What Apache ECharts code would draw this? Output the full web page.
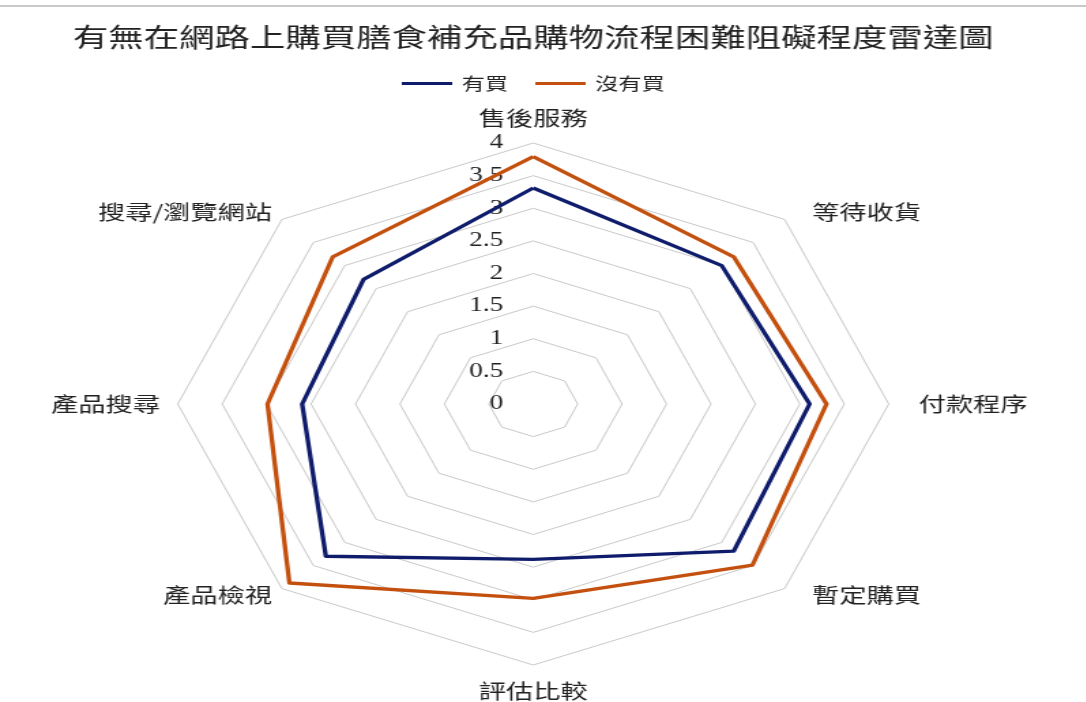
<!DOCTYPE html>
<html>
<head>
<meta charset="utf-8">
<script src="https://cdn.jsdelivr.net/npm/echarts@6/dist/echarts.min.js"></script>
<style>
  html, body { margin: 0; padding: 0; background: #fff; }
  #frame {
    position: relative;
    width: 1086px;
    height: 702px;
    overflow: hidden;
    background: #fff;
  }
  #rule {
    position: absolute;
    left: 0;
    top: 5px;
    width: 1086px;
    height: 2px;
    background: #c9c9c9;
  }
  /* the chart is laid out narrow and widened horizontally, giving the wide octagon */
  #chart {
    position: absolute;
    left: 0;
    top: 0;
    width: 783px;
    height: 702px;
    transform-origin: 0 0;
    transform: scaleX(1.362);
  }
</style>
</head>
<body>
<div id="frame"><div id="rule"></div><div id="chart"></div></div>
<script>
// Shopping-process steps, in drawing order (counter-clockwise from the top)
const categories = ['售後服務', '搜尋/瀏覽網站', '產品搜尋', '產品檢視', '評估比較', '暫定購買', '付款程序', '等待收貨'];
// Average difficulty ratings
const boughtValues    = [3.31, 2.70, 2.60, 3.30, 2.38, 3.19, 3.11, 3.00];
const notBoughtValues = [3.79, 3.19, 2.99, 3.88, 2.98, 3.49, 3.30, 3.19];
const seriesNames = ['有買', '沒有買'];
const axisMin = 0;
const axisMax = 4;
const axisSteps = 8; // 0, 0.5, ... 4

// label placement around the octagon, one entry per step above
const nameLayout = [
  { gap: 15 },
  { gap: 10 },
  { gap: 13 },
  { gap: 10 },
  { gap: 16 },
  { gap: 10, padLeft: 13 },
  { gap: 22 },
  { gap: 10, padLeft: 13 }
];

const FONT = '"Noto Sans CJK TC", "Noto Sans CJK SC", sans-serif';
const BLUE = '#0f1c6b';
const ORANGE = '#c4500f';

const indicators = categories.map((name, i) => {
  const lay = nameLayout[i];
  const ind = {
    name: name,
    min: axisMin,
    max: axisMax,
    nameGap: lay.gap,
    axisLabel: { show: i === 0 }
  };
  if (lay.padLeft) {
    ind.nameTextStyle = { padding: [0, 0, 0, lay.padLeft] };
  }
  return ind;
});

const chart = echarts.init(document.getElementById('chart'));
chart.setOption({
  animation: false,
  title: {
    text: '有無在網路上購買膳食補充品購物流程困難阻礙程度雷達圖',
    left: 'center',
    top: 19,
    textStyle: { fontFamily: FONT, fontSize: 26, fontWeight: 'normal', color: '#222' }
  },
  legend: {
    data: seriesNames,
    left: 'center',
    top: 70,
    icon: 'rect',
    itemWidth: 37,
    itemHeight: 3,
    itemGap: 20,
    textStyle: { fontFamily: FONT, fontSize: 17, color: '#222', padding: [0, 0, 0, 2] }
  },
  radar: {
    center: ['50%', 404],
    radius: 261,
    startAngle: 90,
    shape: 'polygon',
    splitNumber: axisSteps,
    indicator: indicators,
    axisName: { fontFamily: FONT, fontSize: 20, color: '#222' },
    axisLine: { show: false },
    axisTick: { show: false },
    axisLabel: {
      show: false,
      fontFamily: '"Liberation Serif", serif',
      fontSize: 20,
      color: '#222',
      margin: 22
    },
    splitLine: { lineStyle: { color: '#c8c8c8', width: 1 } },
    splitArea: { show: false }
  },
  series: [{
    type: 'radar',
    symbol: 'none',
    data: [
      { name: seriesNames[0], value: boughtValues,
        lineStyle: { color: BLUE, width: 3.3 }, itemStyle: { color: BLUE } },
      { name: seriesNames[1], value: notBoughtValues,
        lineStyle: { color: ORANGE, width: 3.3 }, itemStyle: { color: ORANGE } }
    ]
  }]
});
</script>
</body>
</html>
